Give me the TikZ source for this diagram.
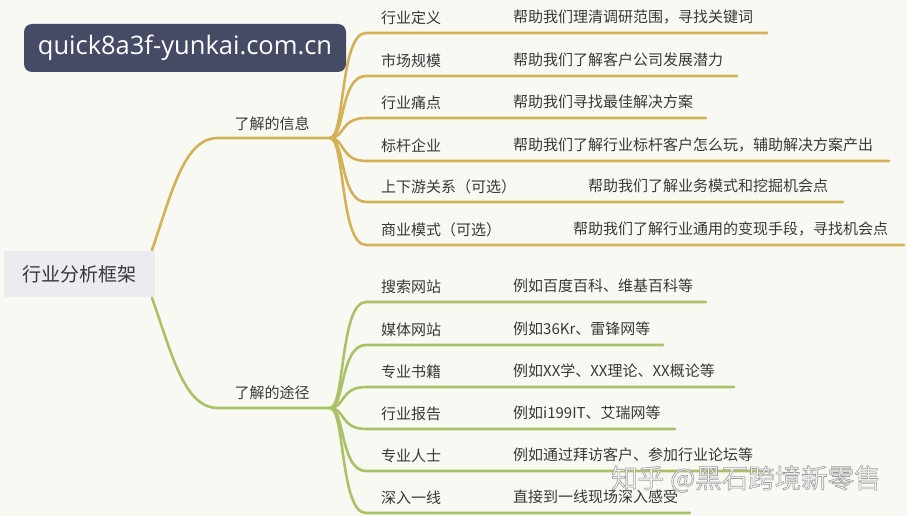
\documentclass[tikz,border=0pt]{standalone}
\usepackage{fontspec}
\setmainfont{Noto Sans CJK SC}
\newfontfamily\badgefont{Open Sans}
\usetikzlibrary{calc}
\definecolor{bgc}{HTML}{F9F9F4}
\definecolor{goldc}{HTML}{D2B157}
\definecolor{greenc}{HTML}{A9C266}
\definecolor{txt}{HTML}{383838}
\definecolor{rootfill}{HTML}{ECECF0}
\definecolor{badgefill}{HTML}{454B65}
\definecolor{wmc}{HTML}{F4F4F4}
\begin{document}
\begin{tikzpicture}[x=1pt,y=-1pt,
  lbl/.style={font=\fontsize{15}{18}\selectfont, text=txt, inner sep=0pt, anchor=west},
  hublbl/.style={font=\fontsize{15}{18}\selectfont, text=txt, inner sep=0pt},
  goldline/.style={draw=goldc, line width=2.6pt, line cap=round},
  greenline/.style={draw=greenc, line width=2.6pt, line cap=round},
  rootbox/.style={fill=rootfill, minimum width=151pt, minimum height=46pt, inner sep=0pt,
    font=\fontsize{19}{22}\selectfont, text=txt},
  badge/.style={fill=badgefill, rounded corners=8pt, minimum width=322pt, minimum height=48pt,
    inner sep=0pt, text=white, font=\badgefont\fontsize{25.5}{29}\selectfont},
  wmark/.style={text=wmc, inner sep=0pt, font=\fontsize{26.5}{30}\selectfont}]
\fill[bgc] (0,0) rectangle (907,516);
\useasboundingbox (0,0) rectangle (907,516);

% root
\node[rootbox] (root) at (79.5,274) {行业分析框架};
\coordinate (rtop) at (152,250);
\coordinate (rbot) at (152,298);

% hubs
\node[hublbl] (info) at (272,124) {了解的信息};
\node[hublbl] (way) at (272,393) {了解的途径};
\coordinate (kA) at (218,138);
\coordinate (hubA) at (330,138);
\coordinate (kB) at (218,408);
\coordinate (hubB) at (330,408);

\draw[goldline] (rtop) .. controls (172,192) and (184,138) .. (kA) -- (hubA);
\draw[greenline] (rbot) .. controls (172,354) and (184,408) .. (kB) -- (hubB);

% gold children
\foreach \i/\y/\lab/\desc/\dx/\ex in {
  1/33/行业定义/帮助我们理清调研范围，寻找关键词/513/767,
  2/76/市场规模/帮助我们了解客户公司发展潜力/513/737,
  3/118/行业痛点/帮助我们寻找最佳解决方案/513/706,
  4/161/标杆企业/帮助我们了解行业标杆客户怎么玩，辅助解决方案产出/513/889,
  5/202/上下游关系（可选）/帮助我们了解业务模式和挖掘机会点/588/843,
  6/245/商业模式（可选）/帮助我们了解行业通用的变现手段，寻找机会点/573/904}{
  \node[lbl] (gA\i) at (381,\y-15) {\lab};
  \node[lbl] (dA\i) at (\dx,\y-16) {\desc};
  \coordinate (sA\i) at (366,\y);
  \coordinate (eA\i) at (\ex,\y);
  \draw[goldline] (hubA) .. controls ($(hubA)+(15,0)$) and ($(sA\i)+(-26,0)$) .. (sA\i) -- (eA\i);
}

% green children
\foreach \i/\y/\lab/\desc/\ex in {
  1/302/搜索网站/例如百度百科、维基百科等/706,
  2/345/媒体网站/例如36Kr、雷锋网等/663,
  3/387/专业书籍/例如XX学、XX理论、XX概论等/734,
  4/429/行业报告/例如i199IT、艾瑞网等/675,
  5/471/专业人士/例如通过拜访客户、参加行业论坛等/770,
  6/513/深入一线/直接到一线现场深入感受/690}{
  \node[lbl] (gB\i) at (381,\y-15) {\lab};
  \node[lbl] (dB\i) at (513,\y-16) {\desc};
  \coordinate (sB\i) at (366,\y);
  \coordinate (eB\i) at (\ex,\y);
  \draw[greenline] (hubB) .. controls ($(hubB)+(15,0)$) and ($(sB\i)+(-26,0)$) .. (sB\i) -- (eB\i);
}

% overlays
\node[badge] (url) at (185,48) {quick8a3f-yunkai.com.cn};
\node[wmark] (zhihu) at (746,479) {\special{pdf:literal direct 0.6 w 0.62 G 2 Tr}知乎 @黑石跨境新零售\special{pdf:literal direct 0 Tr}};
\end{tikzpicture}
\end{document}
